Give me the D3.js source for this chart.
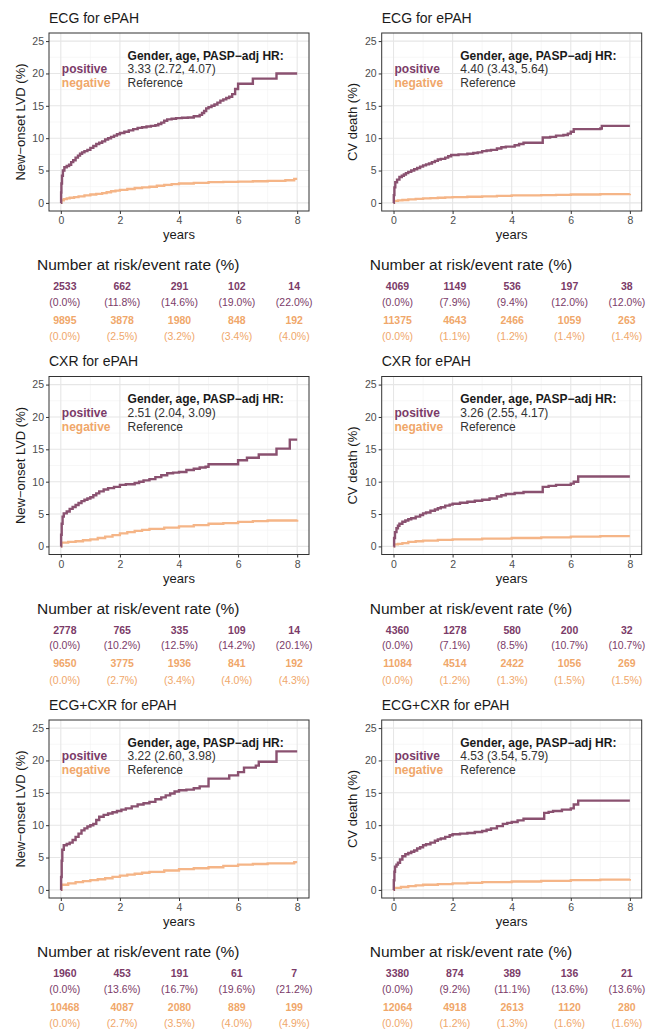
<!DOCTYPE html>
<html>
<head>
<meta charset="utf-8">
<script src="https://cdn.jsdelivr.net/npm/d3@7"></script>
<style>
  body { margin: 0; background: #fff; }
  text { font-family: "Liberation Sans", Arial, sans-serif; }
</style>
</head>
<body>
<svg id="chart"></svg>
<script>
// rows = imaging model, columns = outcome
var rowTitles = ["ECG for ePAH", "CXR for ePAH", "ECG+CXR for ePAH"];
var yTitles = ["New\u2212onset LVD (%)", "CV death (%)"];
var groups = ["positive", "negative"];
var hrHeader = "Gender, age, PASP\u2212adj HR:";
var hrText = ["3.33 (2.72, 4.07)", "4.40 (3.43, 5.64)",
              "2.51 (2.04, 3.09)", "3.26 (2.55, 4.17)",
              "3.22 (2.60, 3.98)", "4.53 (3.54, 5.79)"];

var xTicks = [0, 2, 4, 6, 8];
var yTicks = [0, 5, 10, 15, 20, 25];
var riskTimes = [0, 2, 4, 6, 8];

// number at risk / event rate, panel order: row by row, left then right
var riskPosN = [[2533, 662, 291, 102, 14], [4069, 1149, 536, 197, 38],
                [2778, 765, 335, 109, 14], [4360, 1278, 580, 200, 32],
                [1960, 453, 191, 61, 7], [3380, 874, 389, 136, 21]];
var riskPosRate = [[0.0, 11.8, 14.6, 19.0, 22.0], [0.0, 7.9, 9.4, 12.0, 12.0],
                   [0.0, 10.2, 12.5, 14.2, 20.1], [0.0, 7.1, 8.5, 10.7, 10.7],
                   [0.0, 13.6, 16.7, 19.6, 21.2], [0.0, 9.2, 11.1, 13.6, 13.6]];
var riskNegN = [[9895, 3878, 1980, 848, 192], [11375, 4643, 2466, 1059, 263],
                [9650, 3775, 1936, 841, 192], [11084, 4514, 2422, 1056, 269],
                [10468, 4087, 2080, 889, 199], [12064, 4918, 2613, 1120, 280]];
var riskNegRate = [[0.0, 2.5, 3.2, 3.4, 4.0], [0.0, 1.1, 1.2, 1.4, 1.4],
                   [0.0, 2.7, 3.4, 4.0, 4.3], [0.0, 1.2, 1.3, 1.5, 1.5],
                   [0.0, 2.7, 3.5, 4.0, 4.9], [0.0, 1.2, 1.3, 1.6, 1.6]];

// cumulative incidence curves [years, %]
var curvePos = [
  [[0,0],[0.01,1.6],[0.02,3.0],[0.04,4.2],[0.07,5.0],[0.12,5.5],[0.2,5.7],[0.28,5.9],[0.35,6.3],[0.42,6.6],[0.5,7.0],[0.58,7.3],[0.65,7.6],[0.72,7.8],[0.8,8.0],[0.9,8.2],[1.0,8.5],[1.1,8.8],[1.2,9.1],[1.3,9.3],[1.4,9.5],[1.5,9.8],[1.6,10.0],[1.7,10.2],[1.8,10.4],[1.9,10.6],[2.0,10.8],[2.15,11.0],[2.3,11.2],[2.45,11.4],[2.6,11.6],[2.75,11.7],[2.9,11.8],[3.05,11.9],[3.2,12.0],[3.3,12.2],[3.4,12.4],[3.5,12.7],[3.6,12.9],[3.75,13.0],[3.9,13.1],[4.1,13.15],[4.3,13.2],[4.5,13.4],[4.7,13.6],[4.78,13.9],[4.85,14.2],[4.92,14.6],[5.0,14.8],[5.1,15.0],[5.2,15.2],[5.3,15.5],[5.4,15.8],[5.5,16.0],[5.6,16.2],[5.7,16.4],[5.8,16.8],[5.9,17.6],[6.0,18.4],[6.5,19.2],[7.3,20.0],[8.0,20.0]],
  [[0,0],[0.01,1.2],[0.03,2.4],[0.06,3.2],[0.12,3.6],[0.2,4.0],[0.28,4.2],[0.35,4.4],[0.42,4.6],[0.5,4.8],[0.6,5.0],[0.7,5.2],[0.8,5.4],[0.9,5.6],[1.0,5.8],[1.1,5.95],[1.2,6.1],[1.3,6.3],[1.4,6.5],[1.5,6.7],[1.6,6.8],[1.75,7.0],[1.85,7.2],[1.95,7.4],[2.2,7.5],[2.5,7.6],[2.7,7.7],[2.85,7.8],[3.0,8.0],[3.15,8.1],[3.3,8.2],[3.5,8.4],[3.65,8.6],[3.8,8.7],[4.1,8.9],[4.25,9.1],[4.4,9.3],[5.0,9.3],[5.05,10.1],[5.3,10.2],[5.5,10.4],[5.75,10.5],[5.9,10.7],[6.0,11.0],[6.1,11.4],[7.0,11.5],[7.05,11.9],[8.0,11.9]],
  [[0,0],[0.01,1.8],[0.03,3.5],[0.06,4.6],[0.1,5.1],[0.2,5.4],[0.3,5.8],[0.4,6.1],[0.5,6.4],[0.6,6.7],[0.7,7.0],[0.8,7.2],[0.9,7.4],[1.0,7.6],[1.1,7.9],[1.2,8.2],[1.3,8.5],[1.45,8.8],[1.6,9.0],[1.8,9.2],[2.0,9.5],[2.2,9.6],[2.5,9.8],[2.65,10.0],[2.8,10.2],[3.0,10.4],[3.2,10.7],[3.4,11.0],[3.6,11.3],[3.8,11.4],[4.0,11.5],[4.25,11.8],[4.5,12.0],[4.7,12.2],[4.9,12.3],[5.0,12.7],[5.95,12.7],[6.0,13.3],[6.3,13.7],[6.7,14.2],[7.3,15.1],[7.75,16.5],[8.0,16.5]],
  [[0,0],[0.02,1.3],[0.05,2.2],[0.1,2.8],[0.15,3.2],[0.2,3.5],[0.3,3.8],[0.4,4.0],[0.5,4.2],[0.6,4.35],[0.75,4.6],[0.9,4.85],[1.0,5.1],[1.1,5.25],[1.25,5.5],[1.4,5.7],[1.5,5.9],[1.6,6.05],[1.75,6.3],[1.9,6.45],[2.0,6.6],[2.25,6.75],[2.5,6.9],[2.75,7.05],[3.0,7.2],[3.25,7.4],[3.5,7.7],[3.65,7.9],[3.8,8.1],[4.1,8.25],[4.4,8.4],[5.0,8.4],[5.05,9.2],[5.25,9.35],[5.5,9.5],[6.0,9.7],[6.1,10.0],[6.25,10.8],[8.0,10.8]],
  [[0,0],[0.01,2.0],[0.03,4.5],[0.05,6.2],[0.1,6.9],[0.2,7.1],[0.3,7.3],[0.4,7.7],[0.5,8.2],[0.6,8.7],[0.7,9.2],[0.8,9.5],[0.9,9.8],[1.0,10.0],[1.1,10.2],[1.2,10.8],[1.3,11.3],[1.45,11.6],[1.6,11.8],[1.75,12.0],[1.9,12.2],[2.05,12.4],[2.2,12.6],[2.4,12.9],[2.6,13.2],[2.8,13.4],[3.0,13.6],[3.2,14.0],[3.4,14.3],[3.55,14.6],[3.7,14.9],[3.85,15.2],[4.0,15.4],[4.25,15.5],[4.5,15.7],[4.7,16.0],[5.0,17.2],[5.6,17.2],[5.7,17.7],[6.0,18.2],[6.2,18.9],[6.6,19.2],[6.7,19.8],[7.3,21.4],[8.0,21.4]],
  [[0,0],[0.01,1.5],[0.03,2.8],[0.05,3.6],[0.1,3.9],[0.15,4.2],[0.22,4.7],[0.3,5.2],[0.4,5.5],[0.5,5.7],[0.6,5.9],[0.7,6.1],[0.8,6.4],[0.9,6.6],[1.0,6.9],[1.1,7.05],[1.25,7.3],[1.4,7.6],[1.5,7.8],[1.6,7.95],[1.75,8.2],[1.9,8.45],[2.0,8.6],[2.25,8.7],[2.5,8.8],[2.75,8.95],[3.0,9.1],[3.15,9.3],[3.3,9.5],[3.5,9.85],[3.7,10.2],[3.85,10.35],[4.0,10.5],[4.2,10.75],[4.4,11.0],[5.0,11.0],[5.1,11.9],[5.25,12.05],[5.4,12.2],[5.7,12.4],[6.0,12.6],[6.1,13.2],[6.25,13.8],[8.0,13.8]]
];
var curveNeg = [
  [[0,0],[0.02,0.4],[0.1,0.6],[0.2,0.7],[0.3,0.8],[0.45,0.9],[0.6,1.0],[0.8,1.15],[1.0,1.3],[1.2,1.4],[1.4,1.5],[1.55,1.65],[1.7,1.8],[1.85,1.9],[2.0,2.0],[2.25,2.15],[2.5,2.3],[2.75,2.4],[3.0,2.5],[3.25,2.65],[3.5,2.8],[3.75,2.9],[4.0,3.0],[4.5,3.1],[5.0,3.2],[5.5,3.25],[6.0,3.3],[6.5,3.35],[7.0,3.4],[7.6,3.5],[7.9,3.7],[8.0,3.7]],
  [[0,0],[0.02,0.3],[0.15,0.4],[0.3,0.45],[0.5,0.55],[0.75,0.62],[1.0,0.7],[1.25,0.75],[1.5,0.8],[1.75,0.85],[2.0,0.9],[2.5,0.95],[3.0,1.0],[3.5,1.08],[4.0,1.15],[5.0,1.2],[5.5,1.25],[6.0,1.3],[7.0,1.35],[8.0,1.4]],
  [[0,0],[0.02,0.6],[0.25,0.7],[0.5,0.8],[0.75,0.95],[1.0,1.1],[1.25,1.3],[1.5,1.5],[1.75,1.75],[2.0,2.0],[2.25,2.2],[2.5,2.4],[2.75,2.55],[3.0,2.7],[3.5,2.9],[4.0,3.1],[4.5,3.3],[5.0,3.5],[5.5,3.6],[6.0,3.8],[6.5,3.9],[7.0,4.0],[8.0,4.1]],
  [[0,0],[0.02,0.3],[0.15,0.4],[0.3,0.5],[0.5,0.7],[0.75,0.8],[1.0,0.9],[1.5,1.0],[2.0,1.1],[3.0,1.2],[4.0,1.3],[5.0,1.4],[6.0,1.5],[7.0,1.6],[8.0,1.6]],
  [[0,0],[0.02,0.8],[0.25,1.0],[0.5,1.2],[0.75,1.35],[1.0,1.5],[1.25,1.65],[1.5,1.8],[1.75,2.0],[2.0,2.2],[2.25,2.35],[2.5,2.5],[2.75,2.65],[3.0,2.8],[3.5,3.0],[4.0,3.2],[4.5,3.35],[5.0,3.5],[5.5,3.7],[6.0,3.9],[6.5,4.0],[7.0,4.1],[7.9,4.3],[8.0,4.3]],
  [[0,0],[0.02,0.3],[0.25,0.45],[0.5,0.6],[0.75,0.7],[1.0,0.8],[1.5,0.9],[2.0,1.0],[2.5,1.1],[3.0,1.2],[4.0,1.3],[5.0,1.4],[6.0,1.5],[7.0,1.6],[8.0,1.7]]
];

var width = 646, height = 1029;
var lineColor = {positive: "#8a5170", negative: "#f5b587"};
var textColor = {positive: "#7b3b68", negative: "#f0a76a"};

var colLeft = [49, 381.7], panelW = 260, panelH = 178;
var rowStep = 343.5, firstTop = 33;

var svg = d3.select("#chart")
    .attr("width", width)
    .attr("height", height);

function drawPanel(p) {
    var row = Math.floor(p / 2), col = p % 2;
    var left = colLeft[col], top = firstTop + row * rowStep;

    var x = d3.scaleLinear().domain([-0.4, 8.4]).range([left, left + panelW]);
    var y = d3.scaleLinear().domain([-1.25, 26.25]).range([top + panelH, top]);
    // risk table columns sit a little inside the plot's x range
    var xt = d3.scaleLinear().domain([0, 8]).range([x(0) + 4, x(8) - 3]);

    var g = svg.append("g");

    // minor + major grid
    var xMinor = [1, 3, 5, 7], yMinor = [2.5, 7.5, 12.5, 17.5, 22.5];
    g.selectAll(".xm").data(xMinor).enter().append("line")
        .attr("x1", x).attr("x2", x).attr("y1", top).attr("y2", top + panelH)
        .attr("stroke", "#f2f2f2").attr("stroke-width", 0.6);
    g.selectAll(".ym").data(yMinor).enter().append("line")
        .attr("y1", y).attr("y2", y).attr("x1", left).attr("x2", left + panelW)
        .attr("stroke", "#f2f2f2").attr("stroke-width", 0.6);
    g.selectAll(".xg").data(xTicks).enter().append("line")
        .attr("x1", x).attr("x2", x).attr("y1", top).attr("y2", top + panelH)
        .attr("stroke", "#e6e6e6").attr("stroke-width", 1.1);
    g.selectAll(".yg").data(yTicks).enter().append("line")
        .attr("y1", y).attr("y2", y).attr("x1", left).attr("x2", left + panelW)
        .attr("stroke", "#e6e6e6").attr("stroke-width", 1.1);

    // curves
    var line = d3.line()
        .x(function (d) { return x(d[0]); })
        .y(function (d) { return y(d[1]); })
        .curve(d3.curveStepAfter);

    g.append("path").datum(curveNeg[p])
        .attr("d", line).attr("fill", "none")
        .attr("stroke", lineColor.negative).attr("stroke-width", 2.3);
    g.append("path").datum(curvePos[p])
        .attr("d", line).attr("fill", "none")
        .attr("stroke", lineColor.positive).attr("stroke-width", 2.4);

    // border
    g.append("rect")
        .attr("x", left).attr("y", top).attr("width", panelW).attr("height", panelH)
        .attr("fill", "none").attr("stroke", "#333").attr("stroke-width", 1);

    // axes
    var xAxis = g.append("g")
        .attr("transform", "translate(0," + (top + panelH) + ")")
        .call(d3.axisBottom(x).tickValues(xTicks).tickSize(3).tickPadding(3));
    var yAxis = g.append("g")
        .attr("transform", "translate(" + left + ",0)")
        .call(d3.axisLeft(y).tickValues(yTicks).tickSize(3).tickPadding(2));
    [xAxis, yAxis].forEach(function (a) {
        a.select(".domain").remove();
        a.selectAll("line").attr("stroke", "#333");
        a.selectAll("text").attr("fill", "#4d4d4d")
            .style("font-size", "10.5px")
            .style("font-family", "'Liberation Sans', Arial, sans-serif");
    });

    // titles
    g.append("text")
        .attr("x", left).attr("y", top - 10.5)
        .attr("fill", "#1a1a1a").style("font-size", "14px")
        .text(rowTitles[row]);
    g.append("text")
        .attr("x", left + panelW / 2).attr("y", top + 206)
        .attr("text-anchor", "middle").attr("fill", "#1a1a1a").style("font-size", "13px")
        .text("years");
    g.append("text")
        .attr("transform", "translate(" + (left - 24.5) + "," + (top + panelH / 2) + ") rotate(-90)")
        .attr("text-anchor", "middle").attr("fill", "#1a1a1a").style("font-size", "13px")
        .text(yTitles[col]);

    // legend + HR annotation
    g.append("text").attr("x", x(0) + 1).attr("y", y(20))
        .attr("fill", textColor.positive).style("font-weight", "bold").style("font-size", "12px")
        .text(groups[0]);
    g.append("text").attr("x", x(0) + 1).attr("y", y(17.85))
        .attr("fill", textColor.negative).style("font-weight", "bold").style("font-size", "12px")
        .text(groups[1]);
    g.append("text").attr("x", x(2.26)).attr("y", y(22.15))
        .attr("fill", "#1a1a1a").style("font-weight", "bold").style("font-size", "12px")
        .text(hrHeader);
    g.append("text").attr("x", x(2.26)).attr("y", y(20))
        .attr("fill", "#333").style("font-size", "12px")
        .text(hrText[p]);
    g.append("text").attr("x", x(2.26)).attr("y", y(17.85))
        .attr("fill", "#333").style("font-size", "12px")
        .text("Reference");

    // risk table
    var tb = top + 237;
    g.append("text")
        .attr("x", left - 12).attr("y", tb)
        .attr("fill", "#1a1a1a").style("font-size", "15.5px")
        .text("Number at risk/event rate (%)");

    var cells = [
        {vals: riskPosN[p], dy: 20, fill: textColor.positive, bold: true, fmt: function (v) { return v; }},
        {vals: riskPosRate[p], dy: 35.5, fill: textColor.positive, bold: false, fmt: function (v) { return "(" + v.toFixed(1) + "%)"; }},
        {vals: riskNegN[p], dy: 53.5, fill: textColor.negative, bold: true, fmt: function (v) { return v; }},
        {vals: riskNegRate[p], dy: 70, fill: textColor.negative, bold: false, fmt: function (v) { return "(" + v.toFixed(1) + "%)"; }}
    ];
    cells.forEach(function (c) {
        g.selectAll(null).data(c.vals).enter().append("text")
            .attr("x", function (d, i) { return xt(riskTimes[i]); })
            .attr("y", tb + c.dy)
            .attr("text-anchor", "middle")
            .attr("fill", c.fill)
            .style("font-size", "10.5px")
            .style("font-weight", c.bold ? "bold" : "normal")
            .text(c.fmt);
    });
}

for (var p = 0; p < 6; p++) {
    drawPanel(p);
}
</script>
</body>
</html>
